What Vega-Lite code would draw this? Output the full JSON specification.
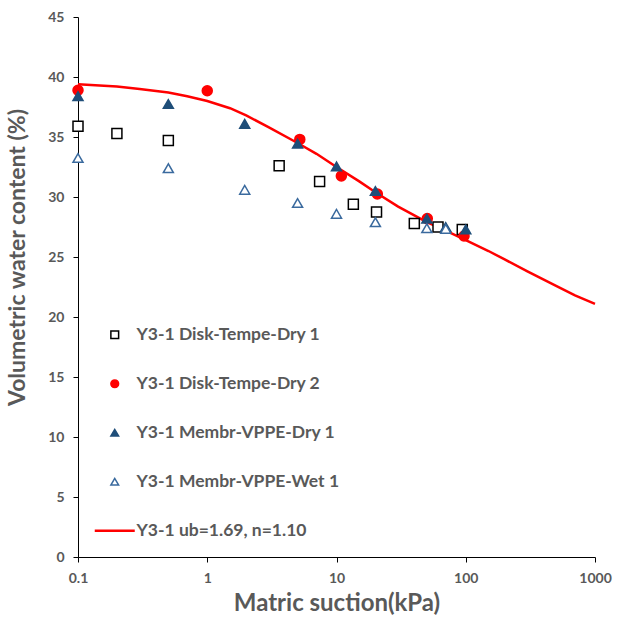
{
  "$schema": "https://vega.github.io/schema/vega-lite/v6.json",
  "width": 517,
  "height": 540,
  "autosize": "none",
  "padding": {"left": 78, "top": 17, "right": 26, "bottom": 62},
  "background": "white",
  "config": {
    "view": {"stroke": null},
    "font": "Lato",
    "axis": {"grid": false, "domainColor": "black", "tickColor": "black", "labelColor": "#595959", "labelFontSize": 14, "labelFontWeight": "bold", "labelFont": "Lato", "titleFont": "Lato", "titleColor": "#595959", "titleFontWeight": "bold", "labelFlush": false}
  },
  "data": {"values": [
    {"series": "Y3-1 Disk-Tempe-Dry 1", "x": 0.1, "y": 35.9},
    {"series": "Y3-1 Disk-Tempe-Dry 1", "x": 0.2, "y": 35.3},
    {"series": "Y3-1 Disk-Tempe-Dry 1", "x": 0.5, "y": 34.7},
    {"series": "Y3-1 Disk-Tempe-Dry 1", "x": 3.6, "y": 32.6},
    {"series": "Y3-1 Disk-Tempe-Dry 1", "x": 7.4, "y": 31.3},
    {"series": "Y3-1 Disk-Tempe-Dry 1", "x": 13.5, "y": 29.4},
    {"series": "Y3-1 Disk-Tempe-Dry 1", "x": 20.4, "y": 28.75},
    {"series": "Y3-1 Disk-Tempe-Dry 1", "x": 40, "y": 27.8},
    {"series": "Y3-1 Disk-Tempe-Dry 1", "x": 61, "y": 27.5},
    {"series": "Y3-1 Disk-Tempe-Dry 1", "x": 94, "y": 27.3},
    {"series": "Y3-1 Disk-Tempe-Dry 2", "x": 0.1, "y": 38.9},
    {"series": "Y3-1 Disk-Tempe-Dry 2", "x": 1, "y": 38.85},
    {"series": "Y3-1 Disk-Tempe-Dry 2", "x": 5.2, "y": 34.8},
    {"series": "Y3-1 Disk-Tempe-Dry 2", "x": 10.9, "y": 31.75},
    {"series": "Y3-1 Disk-Tempe-Dry 2", "x": 20.7, "y": 30.25},
    {"series": "Y3-1 Disk-Tempe-Dry 2", "x": 50.4, "y": 28.2},
    {"series": "Y3-1 Disk-Tempe-Dry 2", "x": 97, "y": 26.75},
    {"series": "Y3-1 Membr-VPPE-Dry 1", "x": 0.1, "y": 38.4},
    {"series": "Y3-1 Membr-VPPE-Dry 1", "x": 0.5, "y": 37.75},
    {"series": "Y3-1 Membr-VPPE-Dry 1", "x": 1.95, "y": 36.1},
    {"series": "Y3-1 Membr-VPPE-Dry 1", "x": 5, "y": 34.45},
    {"series": "Y3-1 Membr-VPPE-Dry 1", "x": 10, "y": 32.55},
    {"series": "Y3-1 Membr-VPPE-Dry 1", "x": 20, "y": 30.5},
    {"series": "Y3-1 Membr-VPPE-Dry 1", "x": 50, "y": 28.2},
    {"series": "Y3-1 Membr-VPPE-Dry 1", "x": 70, "y": 27.5},
    {"series": "Y3-1 Membr-VPPE-Dry 1", "x": 100, "y": 27.3},
    {"series": "Y3-1 Membr-VPPE-Wet 1", "x": 0.1, "y": 33.25},
    {"series": "Y3-1 Membr-VPPE-Wet 1", "x": 0.5, "y": 32.4},
    {"series": "Y3-1 Membr-VPPE-Wet 1", "x": 1.95, "y": 30.6},
    {"series": "Y3-1 Membr-VPPE-Wet 1", "x": 5, "y": 29.5},
    {"series": "Y3-1 Membr-VPPE-Wet 1", "x": 10, "y": 28.6},
    {"series": "Y3-1 Membr-VPPE-Wet 1", "x": 20, "y": 27.9},
    {"series": "Y3-1 Membr-VPPE-Wet 1", "x": 50, "y": 27.4},
    {"series": "Y3-1 Membr-VPPE-Wet 1", "x": 70, "y": 27.35},
    {"series": "Y3-1 ub=1.69, n=1.10", "x": 0.1, "y": 39.4},
    {"series": "Y3-1 ub=1.69, n=1.10", "x": 0.2, "y": 39.2},
    {"series": "Y3-1 ub=1.69, n=1.10", "x": 0.3, "y": 39.0},
    {"series": "Y3-1 ub=1.69, n=1.10", "x": 0.5, "y": 38.7},
    {"series": "Y3-1 ub=1.69, n=1.10", "x": 0.7, "y": 38.4},
    {"series": "Y3-1 ub=1.69, n=1.10", "x": 1, "y": 38.0},
    {"series": "Y3-1 ub=1.69, n=1.10", "x": 1.5, "y": 37.4},
    {"series": "Y3-1 ub=1.69, n=1.10", "x": 2, "y": 36.8},
    {"series": "Y3-1 ub=1.69, n=1.10", "x": 3, "y": 35.8},
    {"series": "Y3-1 ub=1.69, n=1.10", "x": 5, "y": 34.5},
    {"series": "Y3-1 ub=1.69, n=1.10", "x": 7, "y": 33.6},
    {"series": "Y3-1 ub=1.69, n=1.10", "x": 10, "y": 32.5},
    {"series": "Y3-1 ub=1.69, n=1.10", "x": 15, "y": 31.3},
    {"series": "Y3-1 ub=1.69, n=1.10", "x": 20, "y": 30.4},
    {"series": "Y3-1 ub=1.69, n=1.10", "x": 30, "y": 29.2},
    {"series": "Y3-1 ub=1.69, n=1.10", "x": 50, "y": 27.9},
    {"series": "Y3-1 ub=1.69, n=1.10", "x": 70, "y": 27.2},
    {"series": "Y3-1 ub=1.69, n=1.10", "x": 100, "y": 26.4},
    {"series": "Y3-1 ub=1.69, n=1.10", "x": 150, "y": 25.5},
    {"series": "Y3-1 ub=1.69, n=1.10", "x": 200, "y": 24.8},
    {"series": "Y3-1 ub=1.69, n=1.10", "x": 300, "y": 23.8},
    {"series": "Y3-1 ub=1.69, n=1.10", "x": 500, "y": 22.6},
    {"series": "Y3-1 ub=1.69, n=1.10", "x": 700, "y": 21.8},
    {"series": "Y3-1 ub=1.69, n=1.10", "x": 1000, "y": 21.1}
  ]},
  "encoding": {
    "x": {"field": "x", "type": "quantitative", "scale": {"type": "log", "domain": [0.1, 1000], "nice": false},
      "axis": {"values": [0.1, 1, 10, 100, 1000], "format": "~g", "title": "Matric suction(kPa)", "titleFontSize": 24, "tickSize": 5, "labelPadding": 9, "titlePadding": 6}},
    "y": {"field": "y", "type": "quantitative", "scale": {"domain": [0, 45], "nice": false},
      "axis": {"values": [0, 5, 10, 15, 20, 25, 30, 35, 40, 45], "title": "Volumetric water content (%)", "titleFontSize": 23, "tickSize": 5, "labelPadding": 9, "titleX": -49, "titleY": 240, "titleAlign": "center", "titleBaseline": "bottom"}},
    "stroke": {"field": "series", "type": "nominal",
      "scale": {"domain": ["Y3-1 Disk-Tempe-Dry 1", "Y3-1 Disk-Tempe-Dry 2", "Y3-1 Membr-VPPE-Dry 1", "Y3-1 Membr-VPPE-Wet 1", "Y3-1 ub=1.69, n=1.10"],
        "range": ["#000000", "#FF0000", "#1F4E79", "#3A6A9E", "#FF0000"]},
      "legend": {"title": null, "orient": "none", "legendX": 28, "legendY": 309, "labelFontSize": 17.5, "labelFontWeight": "bold", "labelColor": "#595959", "labelFont": "Lato", "labelLimit": 0, "rowPadding": 30, "symbolSize": 60, "symbolStrokeWidth": 1.5, "labelOffset": 13,
        "encode": {"symbols": {"update": {"size": {"signal": "datum.value === 'Y3-1 ub=1.69, n=1.10' ? 1600 : 60"}, "strokeWidth": {"signal": "datum.value === 'Y3-1 ub=1.69, n=1.10' ? 2.5 : 1.5"}}}}}}
  },
  "layer": [
    {
      "transform": [{"filter": "datum.series === 'Y3-1 ub=1.69, n=1.10'"}],
      "mark": {"type": "line", "strokeWidth": 2.5},
      "encoding": {}
    },
    {
      "transform": [{"filter": "datum.series !== 'Y3-1 ub=1.69, n=1.10'"}],
      "mark": {"type": "point", "size": 100, "strokeWidth": 1.5, "opacity": 1},
      "encoding": {
        "shape": {"field": "series", "type": "nominal",
          "scale": {"domain": ["Y3-1 Disk-Tempe-Dry 1", "Y3-1 Disk-Tempe-Dry 2", "Y3-1 Membr-VPPE-Dry 1", "Y3-1 Membr-VPPE-Wet 1", "Y3-1 ub=1.69, n=1.10"],
            "range": ["square", "circle", "triangle-up", "triangle-up", "stroke"]}},
        "fill": {"field": "series", "type": "nominal",
          "scale": {"domain": ["Y3-1 Disk-Tempe-Dry 1", "Y3-1 Disk-Tempe-Dry 2", "Y3-1 Membr-VPPE-Dry 1", "Y3-1 Membr-VPPE-Wet 1", "Y3-1 ub=1.69, n=1.10"],
            "range": ["#FFFFFF", "#FF0000", "#1F4E79", "#FFFFFF", "#FF0000"]}}
      }
    }
  ]
}
